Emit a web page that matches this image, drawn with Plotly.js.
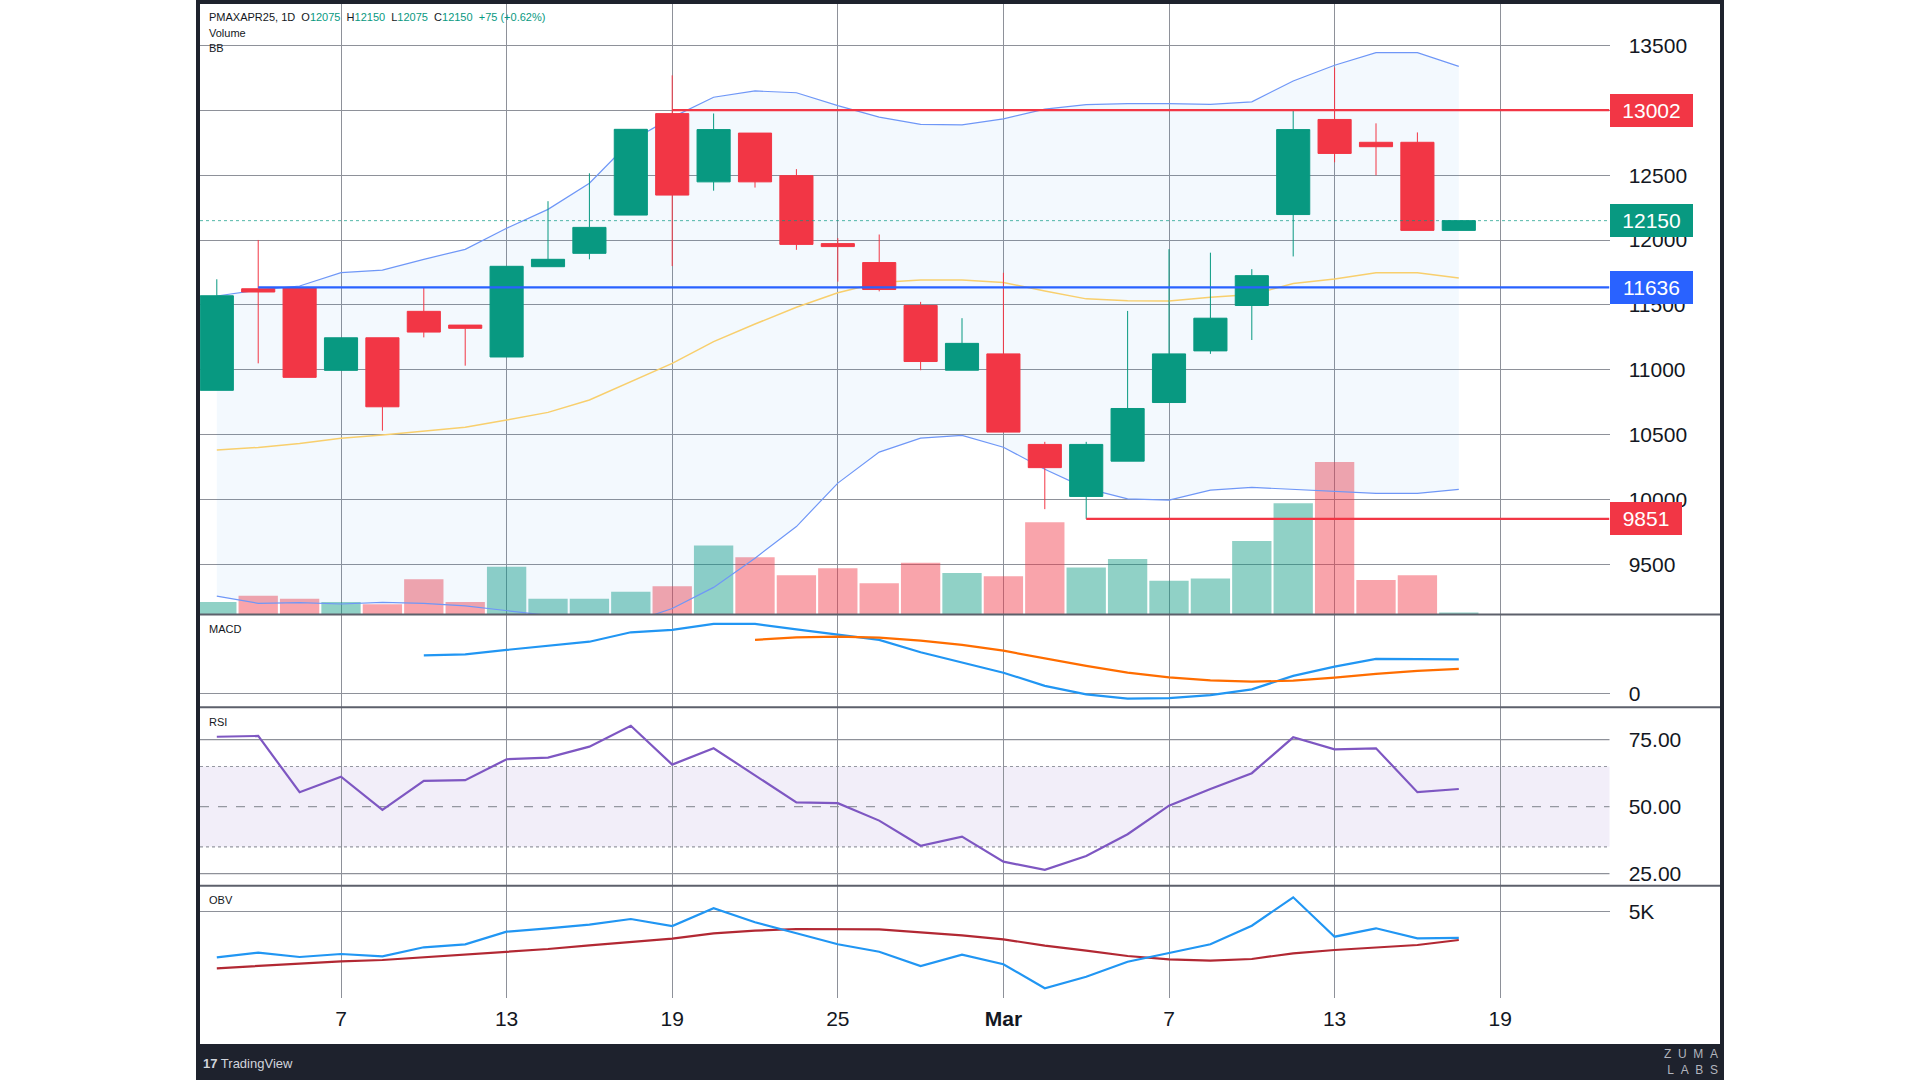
<!DOCTYPE html>
<html><head><meta charset="utf-8">
<script src="https://cdn.plot.ly/plotly-3.0.1.min.js"></script>
<style>html,body{margin:0;padding:0;background:#fff;} #chart{width:1920px;height:1080px;}</style>
</head><body><div id="chart"></div>
<script>
// ---------------- data ----------------
const dates = ['2025-02-04','2025-02-05','2025-02-06','2025-02-07','2025-02-10','2025-02-11','2025-02-12','2025-02-13','2025-02-14','2025-02-17','2025-02-18','2025-02-19','2025-02-20','2025-02-21','2025-02-24','2025-02-25','2025-02-26','2025-02-27','2025-02-28','2025-03-03','2025-03-04','2025-03-05','2025-03-06','2025-03-07','2025-03-10','2025-03-11','2025-03-12','2025-03-13','2025-03-14','2025-03-17','2025-03-18'];
const openP  = [10842,11625,11633,10996,11247,11451,11345,11099,11795,11898,12193,12975,12449,12825,12497,11973,11827,11496,10997,11123,10425,10024,10296,10748,11146,11496,12197,12930,12754,12754,12075];
const highP  = [11698,12001,11640,11247,11247,11633,11345,11798,12300,12515,12854,13270,12976,12825,12547,12015,12043,11524,11398,11748,10445,10445,11454,11930,11903,11776,13002,13330,12900,12830,12150];
const lowP   = [10842,11050,10942,10996,10531,11250,11032,11099,11795,11852,12193,11800,12381,12405,11925,11680,11605,10997,10997,10520,9926,9851,10296,10748,11123,11230,11874,12600,12500,12075,12075];
const closeP = [11571,11600,10942,11247,10715,11291,11320,11798,11852,12098,12854,12347,12852,12449,11967,11950,11619,11064,11204,10520,10246,10425,10702,11123,11398,11726,12852,12668,12720,12075,12150];
const volume = [160,240,200,160,130,450,160,610,200,200,290,360,880,730,500,590,400,660,530,490,1180,600,710,430,460,940,1420,1950,440,500,25];

const bbUpper = [11569,11615,11646,11749,11769,11852,11929,12091,12237,12438,12764,12946,13101,13150,13136,13037,12948,12892,12889,12934,13010,13044,13052,13052,13046,13066,13226,13348,13445,13445,13339];
const bbBasis = [10382,10402,10433,10472,10497,10528,10557,10613,10672,10767,10908,11050,11217,11353,11482,11594,11673,11692,11692,11673,11608,11547,11533,11530,11560,11580,11665,11700,11749,11749,11708];
const bbLower = [9256,9200,9205,9195,9208,9200,9181,9143,9107,9096,9052,9160,9323,9548,9792,10127,10366,10473,10495,10403,10234,10086,10005,9996,10072,10094,10080,10063,10048,10048,10079];

const macdLine   = [null,null,null,null,null,190,195,217,237,258,305,317,347,347,320,295,267,205,153,103,37,-5,-27,-24,-9,20,87,133,172,170,170];
const macdSignal = [null,null,null,null,null,null,null,null,null,null,null,null,null,267,280,283,278,263,242,213,175,137,103,80,65,58,63,78,97,112,122];

const rsi = [76.1,76.4,55.4,61.2,48.8,59.6,59.9,67.7,68.3,72.4,80.2,65.7,71.8,61.8,51.6,51.3,44.8,35.4,38.8,29.5,26.4,31.6,39.7,50.4,56.6,62.5,75.9,71.4,71.8,55.4,56.6];

const obv   = [2720,2950,2735,2885,2770,3220,3370,4000,4170,4350,4635,4285,5170,4470,3920,3370,3000,2285,2850,2370,1170,1750,2500,2920,3370,4300,5720,3750,4170,3670,3690];
const obvMA = [2170,2285,2420,2520,2585,2720,2835,3000,3135,3320,3500,3650,3920,4050,4135,4135,4120,3970,3820,3620,3300,3050,2785,2620,2550,2635,2920,3085,3200,3335,3585];

// horizontal levels (value, first bar index)
const levelValues = [13002, 11636, 9851];
const levelStart  = [11, 1, 21];
const levelColors = ['#f23645', '#2962ff', '#f23645'];

// tick labels
const xTickIdx  = [3, 7, 11, 15, 19, 23, 27, 31];
const xTickText = ['7', '13', '19', '25', '<b>Mar</b>', '7', '13', '19'];
const priceTicks = [9500, 10000, 10500, 11000, 11500, 12000, 12500, 13000, 13500];
const macdTicks = [0];
const rsiTicks = [25, 50, 75];
const rsiBands = [35, 65];
const obvTicks = [5000];
const obvTickText = ['5K'];

// ---------------- layout helpers ----------------
const W = 1920, H = 1080;
const px = v => v / W;
const py = v => 1 - v / H;
const PLOT_L = 200, PLOT_R = 1609.5;
const MAIN_T = 4, MAIN_B = 614.5, MACD_B = 707.3, RSI_B = 885.7, OBV_B = 998;
const xRange = [-0.406, 33.64];
const priceRange = [9114, 13820];
const volRange = [0, 7800];
const macdRange = [-70, 394];
const rsiRange = [20.5, 87.1];
const obvRange = [685, 6300];

const GREEN = '#089981', RED = '#f23645';
const GRID = '#8e9199';
const FONT = 'Liberation Sans, Arial, sans-serif';
const TXT = '#131722';

const xIdx = dates.map((d, i) => i);
const last = closeP.length - 1;

const traces = [];
// volume (base subplot)
traces.push({
  type: 'bar', x: xIdx, y: volume, xaxis: 'x', yaxis: 'y', width: 0.95,
  marker: { color: closeP.map((c, i) => c >= openP[i] ? 'rgba(8,153,129,0.45)' : 'rgba(242,54,69,0.45)'), line: { width: 0 } },
  hovertext: dates, hoverinfo: 'text+y'
});
// Bollinger bands
traces.push({ type: 'scatter', mode: 'lines', x: xIdx, y: bbLower, xaxis: 'x', yaxis: 'y2', line: { color: '#6f97f7', width: 1.2 }, hoverinfo: 'skip' });
traces.push({ type: 'scatter', mode: 'lines', x: xIdx, y: bbUpper, xaxis: 'x', yaxis: 'y2', fill: 'tonexty', fillcolor: 'rgba(33,150,243,0.055)', line: { color: '#6f97f7', width: 1.2 }, hoverinfo: 'skip' });
traces.push({ type: 'scatter', mode: 'lines', x: xIdx, y: bbBasis, xaxis: 'x', yaxis: 'y2', line: { color: '#f8cf6d', width: 1.5 }, hoverinfo: 'skip' });
// candles
traces.push({
  type: 'candlestick', x: xIdx, open: openP, high: highP, low: lowP, close: closeP,
  xaxis: 'x', yaxis: 'y6', whiskerwidth: 0,
  increasing: { line: { color: GREEN, width: 1 }, fillcolor: GREEN },
  decreasing: { line: { color: RED, width: 1 }, fillcolor: RED },
  hovertext: dates
});
// levels
levelValues.forEach((v, k) => {
  traces.push({ type: 'scatter', mode: 'lines', x: [levelStart[k], xRange[1]], y: [v, v], xaxis: 'x', yaxis: 'y6', line: { color: levelColors[k], width: 2.2 }, hoverinfo: 'skip' });
});
// last price dotted line
traces.push({ type: 'scatter', mode: 'lines', x: [xRange[0], xRange[1]], y: [closeP[last], closeP[last]], xaxis: 'x', yaxis: 'y6', line: { color: GREEN, width: 1, dash: 'dot' }, opacity: 0.7, hoverinfo: 'skip' });
// MACD
traces.push({ type: 'scatter', mode: 'lines', x: xIdx, y: macdLine, xaxis: 'x', yaxis: 'y3', line: { color: '#2196f3', width: 2.2 }, connectgaps: false });
traces.push({ type: 'scatter', mode: 'lines', x: xIdx, y: macdSignal, xaxis: 'x', yaxis: 'y3', line: { color: '#ff6d00', width: 2.2 }, connectgaps: false });
// RSI
traces.push({ type: 'scatter', mode: 'lines', x: xIdx, y: rsi, xaxis: 'x', yaxis: 'y4', line: { color: '#7e57c2', width: 2.2 } });
// OBV
traces.push({ type: 'scatter', mode: 'lines', x: xIdx, y: obvMA, xaxis: 'x', yaxis: 'y5', line: { color: '#b22833', width: 2.2 } });
traces.push({ type: 'scatter', mode: 'lines', x: xIdx, y: obv, xaxis: 'x', yaxis: 'y5', line: { color: '#2196f3', width: 2.2 } });

const tickFont = { family: FONT, size: 21, color: TXT };
const rightAxis = (extra) => Object.assign({
  side: 'right', anchor: 'x', showgrid: true, gridcolor: GRID, gridwidth: 1,
  zeroline: false, showline: false, ticks: 'outside', ticklen: 14, tickcolor: 'rgba(0,0,0,0)',
  tickfont: tickFont, tickmode: 'array', fixedrange: true
}, extra);

const shapes = [];
// RSI band + lines
shapes.push({ type: 'rect', xref: 'paper', yref: 'y4', x0: px(PLOT_L), x1: px(PLOT_R), y0: rsiBands[0], y1: rsiBands[1], fillcolor: 'rgba(126,87,194,0.1)', line: { width: 0 }, layer: 'below' });
rsiBands.forEach(v => shapes.push({ type: 'line', xref: 'paper', yref: 'y4', x0: px(PLOT_L), x1: px(PLOT_R), y0: v, y1: v, line: { color: '#9598a1', width: 1.2, dash: 'dot' }, layer: 'below' }));
rsiTicks.forEach(v => shapes.push({ type: 'line', xref: 'paper', yref: 'y4', x0: px(PLOT_L), x1: px(PLOT_R), y0: v, y1: v, line: { color: v === 50 ? '#9598a1' : GRID, width: 1.2, dash: v === 50 ? 'dash' : 'solid' }, layer: 'below' }));
// panel separators
[MAIN_B, MACD_B, RSI_B].forEach(yv => shapes.push({ type: 'line', xref: 'paper', yref: 'paper', x0: px(200), x1: px(1720), y0: py(yv), y1: py(yv), line: { color: '#5d606b', width: 2 }, layer: 'above' }));
// frame and bottom bar
shapes.push({ type: 'rect', xref: 'paper', yref: 'paper', x0: px(196), x1: px(1724), y0: py(1080), y1: py(1046), fillcolor: '#1e222d', line: { width: 0 }, layer: 'above' });
shapes.push({ type: 'rect', xref: 'paper', yref: 'paper', x0: px(198), x1: px(1722), y0: py(1046), y1: py(2), line: { color: '#1e222d', width: 4 }, layer: 'above' });

const annotations = [];
const levelLabels = [
  { v: levelValues[0], c: levelColors[0], w: 79 },
  { v: closeP[last], c: GREEN, w: 79 },
  { v: levelValues[1], c: levelColors[1], w: 79 },
  { v: levelValues[2], c: levelColors[2], w: 68 }
];
levelLabels.forEach(l => annotations.push({
  xref: 'paper', x: px(PLOT_R), xanchor: 'left', yref: 'y6', y: l.v, yanchor: 'middle',
  text: String(l.v), showarrow: false, bgcolor: l.c, borderwidth: 0, borderpad: 2,
  width: l.w, height: 29, align: 'center', font: { family: FONT, size: 21, color: '#ffffff' }
}));
const g = s => `<span style="color:${GREEN}">${s}</span>`;
const hdr = `PMAXAPR25, 1D  O${g('12075')}  H${g('12150')}  L${g('12075')}  C${g('12150')}  ${g('+75 (+0.62%)')}`;
const small = (text, xv, yv, extra) => Object.assign({ xref: 'paper', yref: 'paper', x: px(xv), y: py(yv), xanchor: 'left', yanchor: 'middle', text, showarrow: false, font: { family: FONT, size: 11, color: TXT } }, extra || {});
annotations.push(small(hdr, 207, 17));
annotations.push(small('Volume', 207, 33));
annotations.push(small('BB', 207, 48));
annotations.push(small('MACD', 207, 629));
annotations.push(small('RSI', 207, 722));
annotations.push(small('OBV', 207, 900));
annotations.push(small('<b>17</b> TradingView', 201, 1063, { font: { family: FONT, size: 13, color: '#d1d4dc' } }));
annotations.push(small('Z\u00a0\u00a0U\u00a0\u00a0M\u00a0\u00a0A<br>L\u00a0\u00a0A\u00a0\u00a0B\u00a0\u00a0S', 1720, 1062, { xanchor: 'right', align: 'right', font: { family: FONT, size: 12, color: '#b2b5be' } }));

const layout = {
  width: W, height: H, margin: { l: 0, r: 0, t: 0, b: 0 },
  paper_bgcolor: '#ffffff', plot_bgcolor: 'rgba(0,0,0,0)',
  showlegend: false, font: { family: FONT, color: TXT },
  boxgap: 0.2, boxgroupgap: 0, hovermode: false,
  xaxis: {
    domain: [px(PLOT_L), px(PLOT_R)], range: xRange, anchor: 'y5',
    tickmode: 'array', tickvals: xTickIdx, ticktext: xTickText,
    showgrid: true, gridcolor: GRID, gridwidth: 1, zeroline: false, showline: false,
    ticks: 'outside', ticklen: 2, tickcolor: 'rgba(0,0,0,0)', tickfont: tickFont,
    rangeslider: { visible: false }, fixedrange: true
  },
  yaxis: { domain: [py(MAIN_B), py(MAIN_T)], range: volRange, visible: false, showgrid: false, zeroline: false, fixedrange: true },
  yaxis2: { overlaying: 'y', range: priceRange, visible: false, showgrid: false, zeroline: false, anchor: 'x', fixedrange: true },
  yaxis6: rightAxis({ overlaying: 'y', range: priceRange, tickvals: priceTicks, ticktext: priceTicks.map(String) }),
  yaxis3: rightAxis({ domain: [py(MACD_B), py(MAIN_B)], range: macdRange, tickvals: macdTicks, ticktext: macdTicks.map(String) }),
  yaxis4: rightAxis({ domain: [py(RSI_B), py(MACD_B)], range: rsiRange, tickvals: rsiTicks, ticktext: rsiTicks.map(v => v.toFixed(2)), showgrid: false }),
  yaxis5: rightAxis({ domain: [py(OBV_B), py(RSI_B)], range: obvRange, tickvals: obvTicks, ticktext: obvTickText }),
  shapes, annotations
};

Plotly.newPlot('chart', traces, layout, { staticPlot: true, displayModeBar: false });
</script>
</body></html>
